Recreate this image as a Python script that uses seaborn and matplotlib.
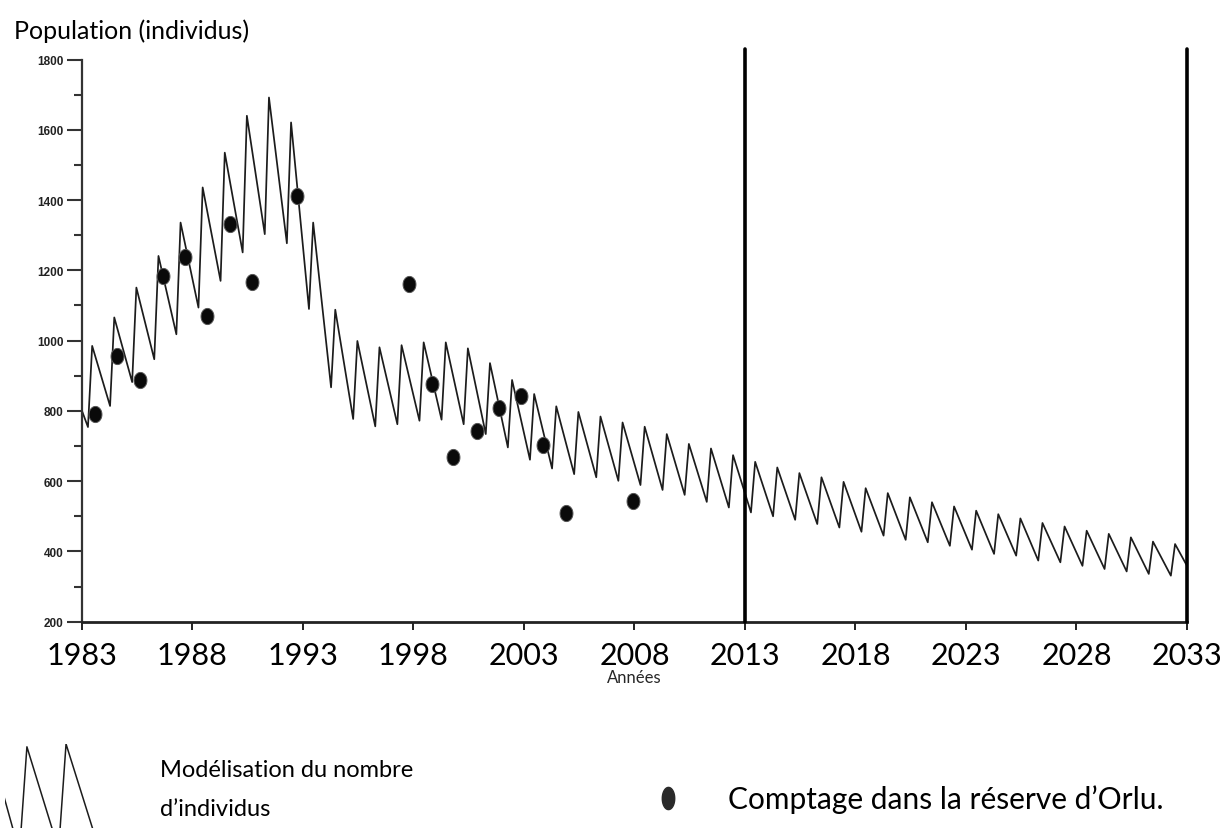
import numpy as np
import pandas as pd
import matplotlib
matplotlib.use("Agg")
import matplotlib.pyplot as plt
from matplotlib.lines import Line2D
from matplotlib.path import Path
from matplotlib.markers import MarkerStyle
from matplotlib.ticker import MultipleLocator
import seaborn as sns

# ---------------- data ----------------
model_start_year = 1983
model_start_value = 800
model_end_year = 2033
model_end_value = 359

cycle_years = list(range(1983, 2033))
trough_values = [754, 814, 882, 947, 1018, 1094, 1170, 1251, 1303, 1277,
                 1090, 867, 777, 756, 762, 772, 775, 762, 734, 696,
                 661, 636, 620, 611, 601, 589, 575, 561, 541, 525,
                 511, 500, 490, 478, 468, 456, 445, 433, 426, 416,
                 405, 393, 388, 374, 369, 359, 350, 343, 336, 331]
peak_values = [985, 1066, 1151, 1241, 1336, 1436, 1535, 1640, 1692, 1621,
               1336, 1088, 999, 981, 987, 995, 995, 978, 936, 888,
               848, 813, 797, 784, 767, 755, 734, 706, 693, 674,
               655, 639, 623, 611, 598, 580, 566, 554, 540, 528,
               516, 506, 494, 481, 471, 459, 450, 440, 428, 421]
trough_offset = 0.27   # fraction of year where the yearly minimum occurs
peak_offset = 0.46     # fraction of year where the yearly maximum occurs

count_years = [1983.60, 1984.60, 1985.61, 1986.67, 1987.65, 1988.67, 1989.71,
               1990.71, 1992.73, 1997.80, 1998.82, 1999.80, 2000.86, 2001.87,
               2002.87, 2003.87, 2004.90, 2007.95]
count_values = [791, 957, 888, 1183, 1237, 1071, 1331, 1167, 1412, 1161,
                876, 669, 743, 808, 841, 703, 509, 544]

x_ticks = [1983, 1988, 1993, 1998, 2003, 2008, 2013, 2018, 2023, 2028, 2033]
y_ticks = [200, 400, 600, 800, 1000, 1200, 1400, 1600, 1800]
period_bounds = [2013, 2033]

legend_model = "Modélisation du nombre\nd\u2019individus"
legend_count = "Comptage dans la réserve d\u2019Orlu."
y_title = "Population (individus)"
x_title = "Années"

# ---------------- build tables ----------------
model_x = [model_start_year]
model_y = [model_start_value]
for yr, lo, hi in zip(cycle_years, trough_values, peak_values):
    model_x += [yr + trough_offset, yr + peak_offset]
    model_y += [lo, hi]
model_x.append(model_end_year)
model_y.append(model_end_value)
model_df = pd.DataFrame({"Année": model_x, "Population": model_y})
count_df = pd.DataFrame({"Année": count_years, "Population": count_values})

# ---------------- style ----------------
sns.set_style("ticks")
plt.rcParams["font.family"] = ["Lato", "DejaVu Sans"]
plt.rcParams["text.color"] = "black"
plt.rcParams["xtick.color"] = "#222222"
plt.rcParams["ytick.color"] = "#333333"

W, H = 1220, 829
fig = plt.figure(figsize=(W / 100, H / 100), dpi=100)
ax = fig.add_axes([82 / W, 1 - 622.7 / H, (1187 - 82) / W, (622.7 - 50) / H])

line_color = "#1c1c1c"
sns.lineplot(data=model_df, x="Année", y="Population", ax=ax, color=line_color,
             lw=1.25, estimator=None, sort=False)

theta = np.linspace(0, 2 * np.pi, 48)
ellipse = Path(np.column_stack([0.40 * np.cos(theta), 0.5 * np.sin(theta)]), closed=True)
sns.scatterplot(data=count_df, x="Année", y="Population", ax=ax,
                marker=MarkerStyle(ellipse), s=135, color="#0a0a0a",
                edgecolor="#555555", linewidth=0.7, zorder=3)

for xb in period_bounds:
    ax.axvline(xb, ymin=0, ymax=1, color="black", lw=2.6, clip_on=False, zorder=4)

ax.set_xlim(1983, 2033)
ax.set_ylim(200, 1830)
ax.spines["top"].set_visible(False)
ax.spines["right"].set_visible(False)
ax.spines["left"].set_bounds(200, 1800)
ax.spines["left"].set_color("#333333")
ax.spines["left"].set_linewidth(1.6)
ax.spines["bottom"].set_color("#222222")
ax.spines["bottom"].set_linewidth(2.0)

ax.set_xticks(x_ticks)
ax.set_xticklabels([str(t) for t in x_ticks])
ax.set_yticks(y_ticks)
ax.set_yticklabels([str(t) for t in y_ticks])
ax.yaxis.set_minor_locator(MultipleLocator(100))
ax.tick_params(axis="x", which="major", length=6, width=1.4, labelsize=22, pad=8,
               labelcolor="black")
ax.tick_params(axis="y", which="major", length=10.5, width=1.5, labelsize=8.5, pad=3)
ax.tick_params(axis="y", which="minor", length=5.5, width=1.5)
for lab in ax.get_yticklabels():
    lab.set_fontfamily(["Liberation Sans", "DejaVu Sans"])
    lab.set_fontweight("bold")
    lab.set_color("#222222")

ax.set_xlabel(x_title, fontsize=12, labelpad=0)
ax.set_ylabel("")
fig.text(14 / W, 1 - 31 / H, y_title, fontsize=18, va="center", ha="left")

# ---------------- legend ----------------
icon_ax = fig.add_axes([5 / W, 0, 90 / W, (829 - 745) / H])
sns.lineplot(data=model_df, x="Année", y="Population", ax=icon_ax, color=line_color,
             lw=1.1, estimator=None, sort=False)
icon_ax.set_xlim(1995.9, 1998.2)
icon_ax.set_ylim(808, 987)
icon_ax.set_axis_off()

fig.text(160 / W, 1 - 790 / H, legend_model, fontsize=17, va="center", ha="left",
         linespacing=2.1)

handle = Line2D([], [], ls="none", marker=MarkerStyle(Path(
    np.column_stack([0.28 * np.cos(theta), 0.5 * np.sin(theta)]), closed=True)),
    markersize=16, color="#2a2a2a")
fig.legend(handles=[handle], labels=[legend_count], loc="center left",
           bbox_to_anchor=(657 / W, 1 - 800 / H), frameon=False, fontsize=21.5,
           borderpad=0, borderaxespad=0, handlelength=0.75, handletextpad=1.63)

fig.savefig("out.png", dpi=100)
